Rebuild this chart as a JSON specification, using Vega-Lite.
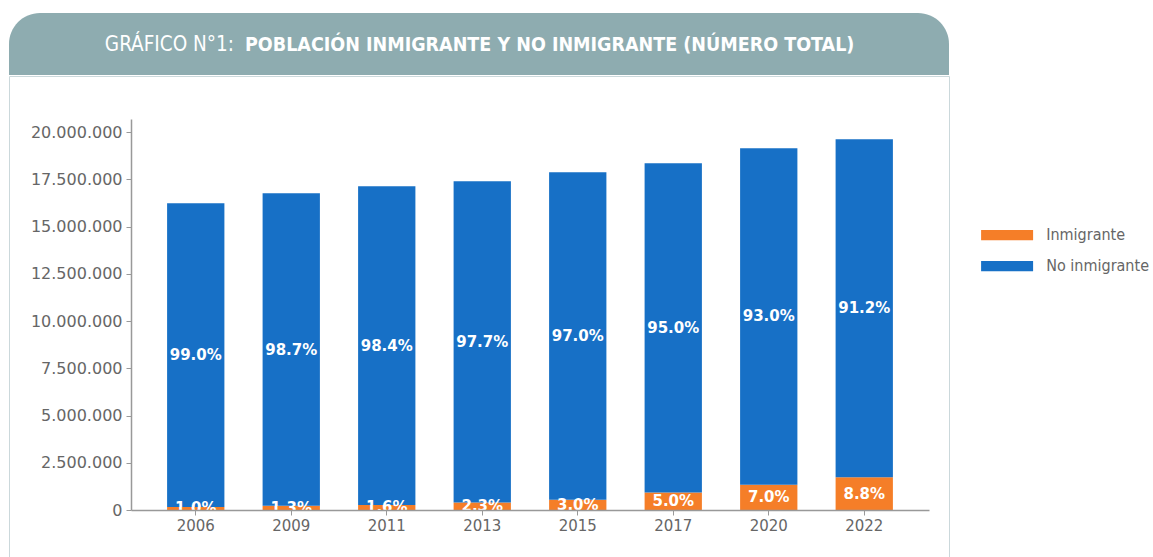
{
  "$schema": "https://vega.github.io/schema/vega-lite/v6.json",
  "padding": {"left": 8, "top": 13, "right": 0, "bottom": 0},
  "background": "white",
  "config": {
    "locale": {"number": {"decimal": ",", "thousands": ".", "grouping": [3], "currency": ["", ""]}},
    "view": {"stroke": null}
  },
  "spacing": 0,
  "vconcat": [
    {
      "width": 940,
      "height": 62,
      "data": {"values": [{"t": 1}]},
      "layer": [
        {"mark": {"type": "rect", "color": "#8eacb0", "cornerRadiusTopLeft": 32, "cornerRadiusTopRight": 32}, "encoding": {}},
        {"mark": {"type": "text", "text": "GRÁFICO N°1:", "align": "right", "baseline": "middle", "dx": -245, "dy": 1, "font": "DejaVu Sans Condensed, Roboto", "fontSize": 20.5, "fontWeight": "normal", "color": "white"}, "encoding": {}},
        {"mark": {"type": "text", "text": "POBLACIÓN INMIGRANTE Y NO INMIGRANTE (NÚMERO TOTAL)", "align": "left", "baseline": "middle", "dx": -234, "dy": 1, "font": "DejaVu Sans Condensed, Roboto", "fontSize": 19.5, "fontWeight": "bold", "color": "white"}, "encoding": {}}
      ]
    },
    {
      "width": 940,
      "height": 482,
      "view": {"stroke": "#cbd8db", "strokeWidth": 1},
      "data": {"values": [
        {"anio": "2006", "grupo": "Inmigrante", "valor": 160000, "etiqueta": "1.0%"},
        {"anio": "2006", "grupo": "No inmigrante", "valor": 16080000, "etiqueta": "99.0%"},
        {"anio": "2009", "grupo": "Inmigrante", "valor": 220000, "etiqueta": "1.3%"},
        {"anio": "2009", "grupo": "No inmigrante", "valor": 16550000, "etiqueta": "98.7%"},
        {"anio": "2011", "grupo": "Inmigrante", "valor": 270000, "etiqueta": "1.6%"},
        {"anio": "2011", "grupo": "No inmigrante", "valor": 16870000, "etiqueta": "98.4%"},
        {"anio": "2013", "grupo": "Inmigrante", "valor": 400000, "etiqueta": "2.3%"},
        {"anio": "2013", "grupo": "No inmigrante", "valor": 17010000, "etiqueta": "97.7%"},
        {"anio": "2015", "grupo": "Inmigrante", "valor": 540000, "etiqueta": "3.0%"},
        {"anio": "2015", "grupo": "No inmigrante", "valor": 17340000, "etiqueta": "97.0%"},
        {"anio": "2017", "grupo": "Inmigrante", "valor": 920000, "etiqueta": "5.0%"},
        {"anio": "2017", "grupo": "No inmigrante", "valor": 17440000, "etiqueta": "95.0%"},
        {"anio": "2020", "grupo": "Inmigrante", "valor": 1340000, "etiqueta": "7.0%"},
        {"anio": "2020", "grupo": "No inmigrante", "valor": 17810000, "etiqueta": "93.0%"},
        {"anio": "2022", "grupo": "Inmigrante", "valor": 1730000, "etiqueta": "8.8%"},
        {"anio": "2022", "grupo": "No inmigrante", "valor": 17900000, "etiqueta": "91.2%"}
      ]},
      "layer": [
        {
          "mark": {"type": "bar"},
          "encoding": {
            "x": {
              "field": "anio", "type": "nominal", "sort": null,
              "scale": {"range": [122, 920], "paddingInner": 0.4, "paddingOuter": 0.378},
              "axis": {"title": null, "labelAngle": 0, "offset": -48, "domainColor": "#999999", "domainWidth": 1.5, "tickColor": "#999999", "tickSize": 5, "labelColor": "#666666", "labelFont": "DejaVu Sans", "labelFontSize": 15, "labelPadding": 3, "zindex": 1}
            },
            "y": {
              "field": "valor", "type": "quantitative", "stack": "zero",
              "scale": {"domain": [0, 20700000], "range": [434, 43], "nice": false, "zero": true},
              "axis": {"title": null, "values": [0, 2500000, 5000000, 7500000, 10000000, 12500000, 15000000, 17500000, 20000000], "format": ",d", "offset": -122, "grid": false, "domainColor": "#999999", "domainWidth": 1.5, "tickColor": "#999999", "tickSize": 5, "labelColor": "#666666", "labelFont": "DejaVu Sans", "labelFontSize": 16, "labelPadding": 4, "zindex": 1}
            },
            "color": {
              "field": "grupo", "type": "nominal",
              "scale": {"domain": ["Inmigrante", "No inmigrante"], "range": ["#f57e28", "#1770c6"]},
              "legend": {"title": null, "orient": "none", "legendX": 987.6, "legendY": 211.6, "padding": 0, "symbolType": "M-2.5,-0.5H2.5V0.5H-2.5Z", "symbolSize": 432.6, "symbolStrokeWidth": 0, "labelFont": "DejaVu Sans Condensed, Roboto", "labelFontSize": 16, "labelColor": "#666666", "labelOffset": 28.6, "rowPadding": 12}
            },
            "order": {"field": "grupo", "sort": "ascending"}
          }
        },
        {
          "transform": [
            {"stack": "valor", "groupby": ["anio"], "sort": [{"field": "grupo", "order": "ascending"}], "as": ["v0", "v1"]},
            {"fold": ["v0", "v1"], "as": ["extremo", "pos"]}
          ],
          "mark": {"type": "text", "color": "white", "font": "DejaVu Sans", "fontSize": 15, "fontWeight": "bold", "baseline": "middle"},
          "encoding": {
            "x": {"field": "anio", "type": "nominal", "sort": null},
            "y": {"aggregate": "mean", "field": "pos", "type": "quantitative", "stack": null},
            "text": {"field": "etiqueta"},
            "detail": {"field": "grupo"}
          }
        }
      ]
    }
  ]
}
